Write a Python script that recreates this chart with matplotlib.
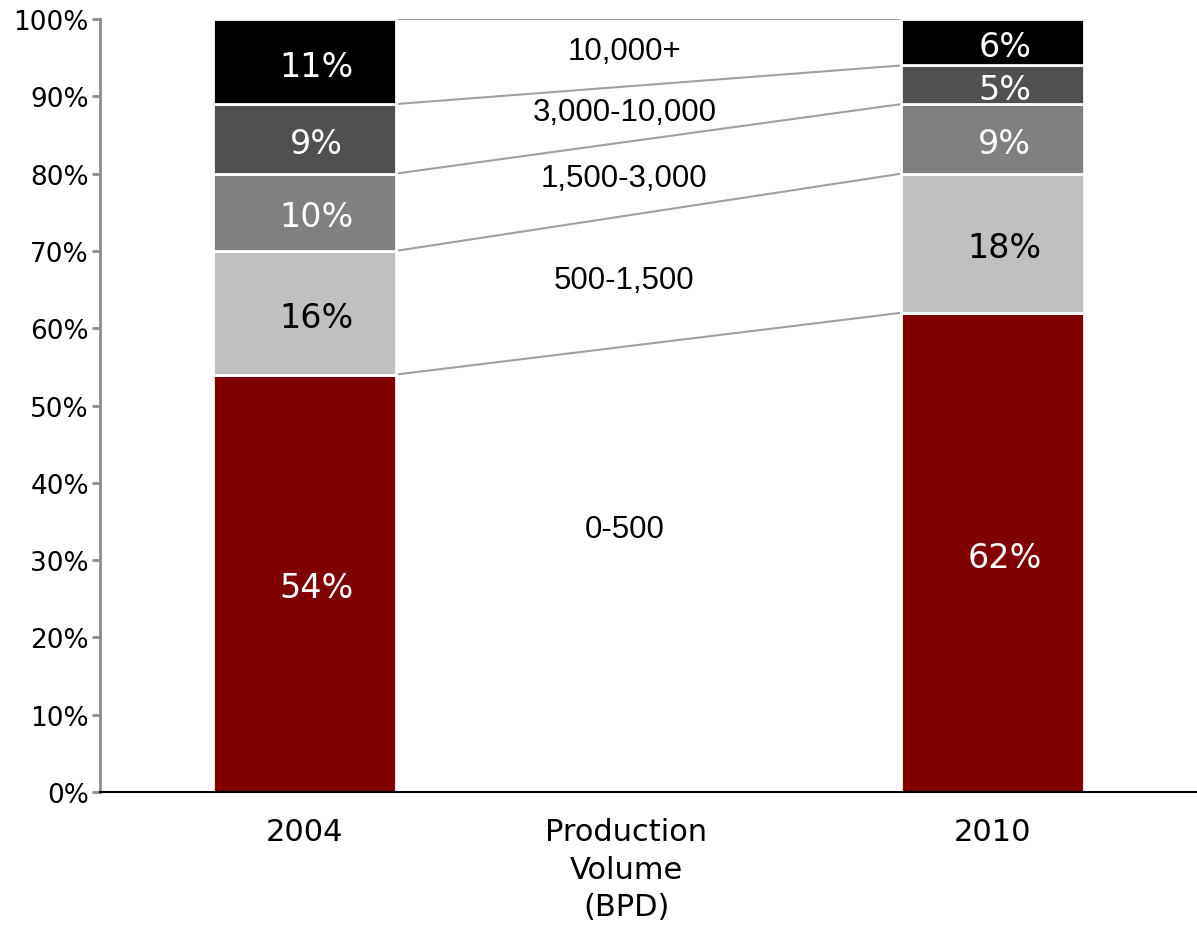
import numpy as np
import matplotlib.pyplot as plt

# === Data ===
years = ["2004", "2010"]
bands = ["0-500", "500-1,500", "1,500-3,000", "3,000-10,000", "10,000+"]
share_2004 = [54, 16, 10, 9, 11]
share_2010 = [62, 18, 9, 5, 6]
band_colors = ["#800000", "#C0C0C0", "#808080", "#505050", "#000000"]
label_colors = ["white", "black", "white", "white", "white"]
middle_label = "Production\nVolume\n(BPD)"

# y positions (%) of the band names between the bars
band_label_y = [34, 66.2, 79.4, 88, 95.9]

x_pos = np.array([0.0, 2.0])
bar_w = 0.53

fig = plt.figure(figsize=(11.97, 9.29), dpi=100)
ax = fig.add_axes([0.0835, 0.1464, 0.9165, 0.832])

shares = np.array([share_2004, share_2010], dtype=float)
bottoms = np.zeros(2)
for i, band in enumerate(bands):
    vals = shares[:, i]
    ax.bar(x_pos, vals, bar_w, bottom=bottoms, color=band_colors[i],
           edgecolor="white", linewidth=2, zorder=2)
    for xp, v, b in zip(x_pos, vals, bottoms):
        ax.text(xp + 0.035, b + v / 2 - 0.6, f"{int(v)}%", ha="center",
                va="center", color=label_colors[i], fontsize=24, zorder=3)
    bottoms = bottoms + vals

    # connector from the top of this band in 2004 to the same band in 2010
    top_a = shares[0, :i + 1].sum()
    top_b = shares[1, :i + 1].sum()
    ax.plot([x_pos[0] + bar_w / 2, x_pos[1] - bar_w / 2], [top_a, top_b],
            color="#A0A0A0", linewidth=1.5, zorder=1)

for band, y in zip(bands, band_label_y):
    ax.text(0.93, y, band, ha="center", va="center", fontsize=22.5,
            family="Liberation Sans", color="black")

ax.set_xlim(-0.594, 2.594)
ax.set_ylim(0, 100)
ax.set_yticks(np.arange(0, 101, 10))
ax.set_yticklabels([f"{v}%" for v in range(0, 101, 10)], fontsize=19)
ax.set_xticks([x_pos[0], 0.935, x_pos[1]])
ax.set_xticklabels([years[0], middle_label, years[1]], fontsize=22,
                   linespacing=1.38)

ax.spines["top"].set_visible(False)
ax.spines["right"].set_visible(False)
ax.spines["left"].set_color("#8C8C8C")
ax.spines["left"].set_linewidth(2)
ax.spines["bottom"].set_color("black")
ax.spines["bottom"].set_linewidth(1.5)
ax.tick_params(axis="y", colors="#8C8C8C", length=6, width=2, pad=2,
               labelcolor="black")
ax.tick_params(axis="x", length=0, pad=18)

fig.savefig("out.png", dpi=100)
